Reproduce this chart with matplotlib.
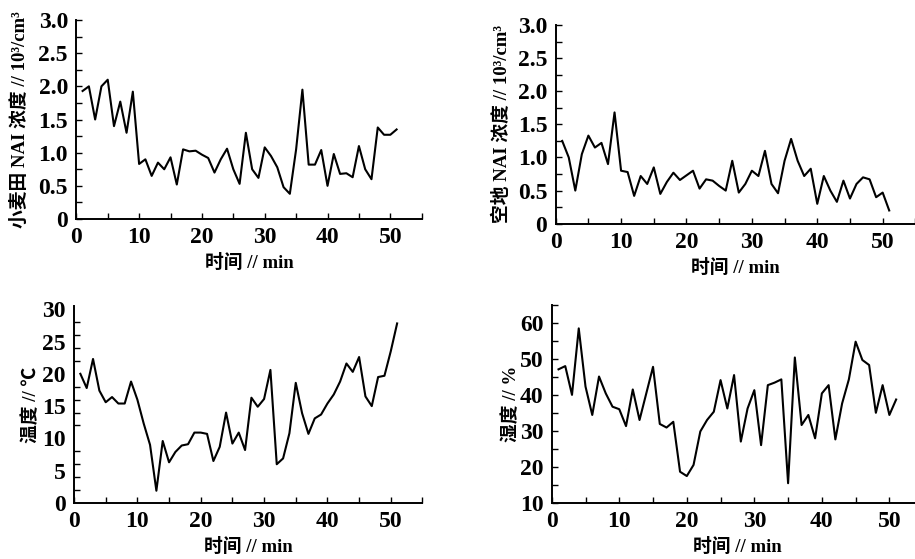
import matplotlib
matplotlib.use("Agg")
import matplotlib.pyplot as plt
from matplotlib.ticker import MultipleLocator

plt.rcParams['font.family'] = ['Liberation Serif', 'Noto Sans CJK SC']
plt.rcParams['font.weight'] = 'bold'

# time axis (min)
minutes = list(range(1, 52))

# wheat field NAI concentration (10^3/cm^3)
nai_wheat = [1.93, 2.0, 1.5, 2.0, 2.1, 1.4, 1.77, 1.3, 1.92, 0.83,
             0.9, 0.65, 0.85, 0.75, 0.93, 0.52, 1.05, 1.02, 1.03, 0.97,
             0.92, 0.7, 0.9, 1.06, 0.75, 0.53, 1.3, 0.75, 0.62, 1.08,
             0.95, 0.78, 0.48, 0.38, 1.05, 1.95, 0.82, 0.82, 1.04, 0.5,
             0.98, 0.68, 0.69, 0.63, 1.1, 0.75, 0.6, 1.38, 1.27, 1.27,
             1.35]

# open ground NAI concentration (10^3/cm^3)
nai_open = [1.25, 1.0, 0.5, 1.05, 1.33, 1.15, 1.22, 0.9, 1.68, 0.8,
            0.78, 0.42, 0.72, 0.6, 0.85, 0.45, 0.63, 0.77, 0.66, 0.73,
            0.8, 0.53, 0.67, 0.65, 0.57, 0.5, 0.95, 0.47, 0.6, 0.8,
            0.72, 1.1, 0.6, 0.46, 0.95, 1.28, 0.95, 0.72, 0.83, 0.3,
            0.72, 0.5, 0.33, 0.65, 0.38, 0.6, 0.7, 0.67, 0.4, 0.47,
            0.2]

# temperature (C)
temperature = [20.0, 17.8, 22.3, 17.4, 15.6, 16.4, 15.4, 15.4, 18.8, 16.0,
               12.3, 9.0, 1.9, 9.6, 6.3, 7.9, 8.9, 9.1, 10.9, 10.9,
               10.7, 6.5, 8.7, 14.0, 9.2, 10.9, 8.2, 16.3, 14.9, 16.1,
               20.6, 6.0, 6.9, 10.8, 18.6, 13.9, 10.7, 13.1, 13.7, 15.4,
               16.8, 18.8, 21.6, 20.3, 22.6, 16.5, 15.0, 19.5, 19.7, 23.5,
               27.8]

# humidity (%)
humidity = [47.2, 48.1, 40.1, 58.6, 42.4, 34.5, 45.2, 40.5, 36.8, 36.1,
            31.4, 41.6, 33.1, 40.5, 47.9, 32.0, 31.0, 32.6, 18.7, 17.5,
            20.6, 29.9, 33.1, 35.4, 44.2, 36.3, 45.6, 27.1, 36.3, 41.4,
            26.1, 42.8, 43.5, 44.4, 15.5, 50.5, 31.7, 34.5, 28.0, 40.5,
            42.8, 27.7, 37.7, 44.4, 54.9, 49.8, 48.4, 35.1, 42.8, 34.5,
            38.8]

fig = plt.figure(figsize=(9.15, 5.59), dpi=100)

panels = [
    # rect, data, ylim, major, minor, ylabel, labelpad
    ([0.0834, 0.6082, 0.3775, 0.356], nai_wheat, (0, 3.0), 0.5, 0.25,
     '小麦田 NAI 浓度 // 10³/cm³', 7),
    ([0.6073, 0.5998, 0.3931, 0.3555], nai_open, (0, 3.0), 0.5, 0.25,
     '空地 NAI 浓度 // 10³/cm³', 5),
    ([0.0809, 0.1002, 0.3808, 0.3524], temperature, (0, 30.5), 5, 2,
     '温度 // ℃', 1),
    ([0.603, 0.1002, 0.4059, 0.3535], humidity, (10, 65), 10, 5,
     '湿度 // %', 0),
]

for rect, vals, ylim, major, minor, ylab, lpad in panels:
    ax = fig.add_axes(rect)
    ax.plot(minutes, vals, color='black', linewidth=1.5)
    ax.set_xlim(0, 55)
    ax.set_ylim(*ylim)
    ax.spines['top'].set_visible(False)
    ax.spines['right'].set_visible(False)
    ax.spines['left'].set_linewidth(1.4)
    ax.spines['bottom'].set_linewidth(1.4)
    ax.xaxis.set_major_locator(MultipleLocator(10))
    ax.xaxis.set_minor_locator(MultipleLocator(5))
    ax.yaxis.set_major_locator(MultipleLocator(major))
    ax.yaxis.set_minor_locator(MultipleLocator(minor))
    ax.set_xticks(range(0, 51, 10))
    if major == 0.5:
        ax.set_yticks([0, 0.5, 1.0, 1.5, 2.0, 2.5, 3.0])
        ax.set_yticklabels(['0', '0.5', '1.0', '1.5', '2.0', '2.5', '3.0'])
    if major == 5:
        ax.set_yticks(range(0, 31, 5))
    ax.tick_params(which='both', direction='in', labelsize=17, width=1.0,
                   length=4)
    if major == 5:
        ax.tick_params(axis='y', which='major', length=0)
    ax.tick_params(axis='y', pad=6)
    ax.tick_params(axis='x', pad=6)
    for lab in ax.get_xticklabels() + ax.get_yticklabels():
        lab.set_fontweight('bold')
    ax.set_ylabel(ylab, fontsize=13.5, fontweight='bold', labelpad=lpad)
    ax.set_xlabel('时间 // min', fontsize=13.5, fontweight='bold', labelpad=4)

fig.savefig('out.png', dpi=100)
